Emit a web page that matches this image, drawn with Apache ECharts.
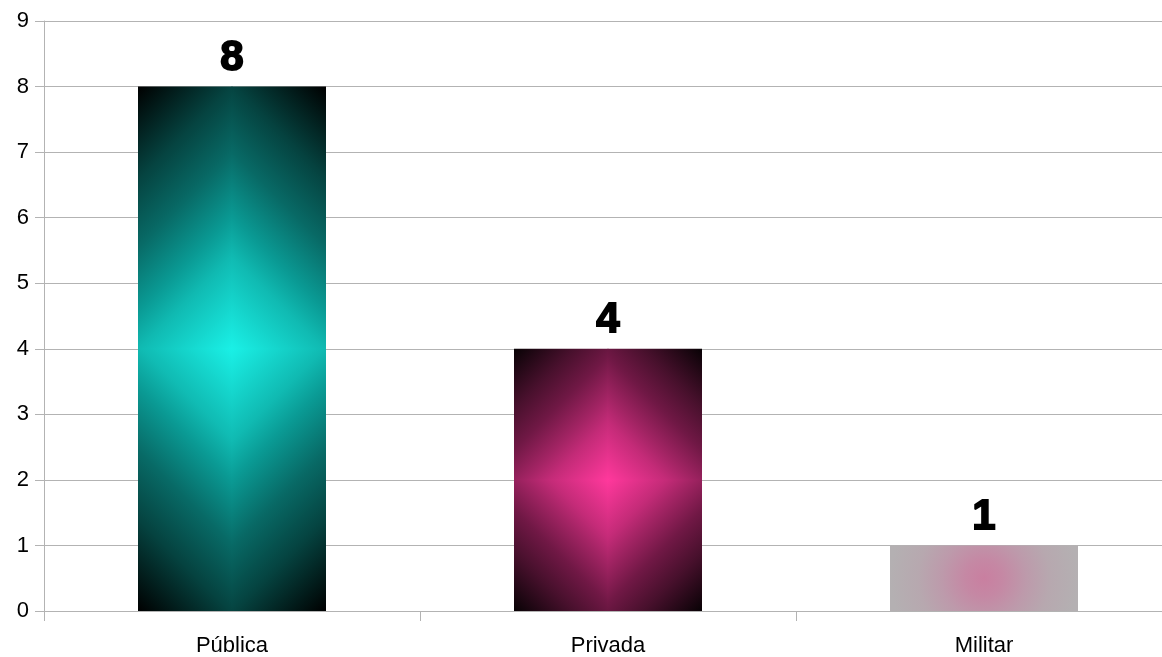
<!DOCTYPE html>
<html>
<head>
<meta charset="utf-8">
<script src="https://cdn.jsdelivr.net/npm/echarts@6/dist/echarts.min.js"></script>
<style>
html,body{margin:0;padding:0;background:#fff;overflow:hidden;width:1162px;height:657px;}
#chart{width:1180px;height:657px;}
</style>
</head>
<body>
<div id="chart"></div>
<script>
var categories = ['Pública', 'Privada', 'Militar'];
var values = [8, 4, 1];
var yTicks = [0, 1, 2, 3, 4, 5, 6, 7, 8, 9];

var barFills = [
  {type: 'diamond', offsets: [0, 0.26, 0.37, 0.55, 0.74, 1],
   stops: ['#1af0e6', '#10bab2', '#0a9a94', '#086a66', '#054340', '#000000']},
  {type: 'diamond', offsets: [0, 0.26, 0.37, 0.55, 0.74, 1],
   stops: ['#ff389c', '#c42b78', '#a32464', '#701845', '#47102c', '#080205']},
  {type: 'radial', offsets: [0, 0.2, 0.45, 0.7, 1],
   stops: ['#c97fa0', '#c588a4', '#bd9aab', '#b7a8af', '#b4b0b2']}
];

var chart = echarts.init(document.getElementById('chart'));
var G = echarts.graphic;

function makeStops(f) {
  return f.stops.map(function (c, i) { return {offset: f.offsets[i], color: c}; });
}

function renderItem(params, api) {
  var idx = params.dataIndex;
  var v = api.value(1);
  var base = api.coord([api.value(0), 0]);
  var top = api.coord([api.value(0), v]);
  var band = api.size([1, 0])[0];
  var hw = band * 0.25;
  var cx = base[0];
  var y0 = top[1], y1 = base[1];
  var cy = (y0 + y1) / 2;
  var hh = (y1 - y0) / 2;
  var f = barFills[idx];
  var children = [];
  if (f.type === 'diamond') {
    var D = (hw + hh) / 2;
    var quads = [[-1, -1], [1, -1], [-1, 1], [1, 1]];
    quads.forEach(function (q) {
      var rx = q[0] < 0 ? cx - hw : cx - 0.5;
      var ry = q[1] < 0 ? y0 : cy - 0.5;
      children.push({
        type: 'rect',
        shape: {x: rx, y: ry, width: hw + 0.5, height: hh + 0.5},
        style: {
          fill: new G.LinearGradient(cx, cy, cx + q[0] * D, cy + q[1] * D, makeStops(f), true)
        }
      });
    });
  } else {
    children.push({
      type: 'rect',
      shape: {x: cx - hw, y: y0, width: hw * 2, height: y1 - y0},
      style: {
        fill: new G.RadialGradient(cx, cy, hw, makeStops(f), true)
      }
    });
  }
  children.push({
    type: 'text',
    style: {
      text: String(v),
      x: cx,
      y: y0 - 7,
      align: 'center',
      verticalAlign: 'bottom',
      font: 'bold 42px "Liberation Sans", Arial, sans-serif',
      fill: '#000',
      stroke: '#000',
      lineWidth: 1.8
    }
  });
  return {type: 'group', children: children};
}

chart.setOption({
  animation: false,
  backgroundColor: '#fff',
  grid: {left: 44, top: 21, right: 8, height: 590, containLabel: false},
  xAxis: {
    type: 'category',
    data: categories,
    boundaryGap: true,
    axisLine: {show: true, lineStyle: {color: '#b3b3b3', width: 1}},
    axisTick: {show: true, length: 10, interval: 0, lineStyle: {color: '#b3b3b3'}},
    axisLabel: {color: '#000', fontSize: 22, margin: 24, fontFamily: '"Liberation Sans", Arial, sans-serif'},
    splitLine: {show: false}
  },
  yAxis: {
    type: 'value',
    min: yTicks[0],
    max: yTicks[yTicks.length - 1],
    interval: 1,
    axisLine: {show: true, lineStyle: {color: '#b3b3b3', width: 1}},
    axisTick: {show: true, inside: false, length: 9, lineStyle: {color: '#b3b3b3'}},
    axisLabel: {color: '#000', fontSize: 22, margin: 15, fontFamily: '"Liberation Sans", Arial, sans-serif'},
    splitLine: {show: true, lineStyle: {color: '#b3b3b3', width: 1}}
  },
  series: [{
    type: 'custom',
    renderItem: renderItem,
    encode: {x: 0, y: 1},
    data: categories.map(function (c, i) { return [i, values[i]]; }),
    clip: false
  }]
});
</script>
</body>
</html>
